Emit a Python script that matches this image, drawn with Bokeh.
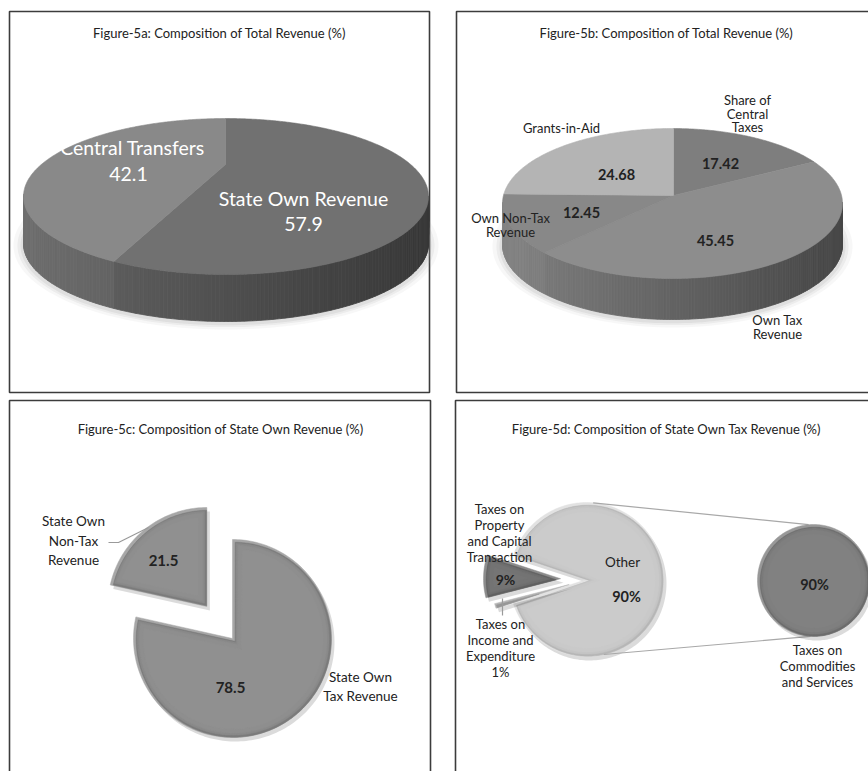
import numpy as np
from bokeh.plotting import figure
from bokeh.models import Range1d
from bokeh.core.properties import value
from bokeh.embed import file_html
from bokeh.resources import INLINE

# ---------------- data ----------------
titles = ["Figure-5a: Composition of Total Revenue (%)",
          "Figure-5b: Composition of Total Revenue (%)",
          "Figure-5c: Composition of State Own Revenue (%)",
          "Figure-5d: Composition of State Own Tax Revenue (%)"]

a_categories = ["State Own Revenue", "Central Transfers"]
a_values = [57.9, 42.1]

b_categories = ["Share of Central Taxes", "Own Tax Revenue", "Own Non-Tax Revenue", "Grants-in-Aid"]
b_values = [17.42, 45.45, 12.45, 24.68]

c_categories = ["State Own Tax Revenue", "State Own Non-Tax Revenue"]
c_values = [78.5, 21.5]

d_categories = ["Other", "Taxes on Income and Expenditure", "Taxes on Property and Capital Transaction"]
d_values = [90, 1, 9]
d_sub_categories = ["Taxes on Commodities and Services"]
d_sub_values = [90]

# ---------------- canvas ----------------
W, H = 868, 771
FONT = "Lato"
p = figure(width=W, height=H, x_range=Range1d(0, W), y_range=Range1d(H, 0),
           x_axis_location=None, y_axis_location=None, toolbar_location=None,
           output_backend="svg", min_border=0, outline_line_color=None,
           background_fill_color="white", border_fill_color="white")
p.xgrid.visible = False
p.ygrid.visible = False


def gray(g):
    g = int(max(0, min(255, round(g))))
    return "#%02x%02x%02x" % (g, g, g)


def txt(x, y, lines, size, color="#222222", bold=False, spacing=None):
    if isinstance(lines, str):
        lines = [lines]
    spacing = spacing or size * 1.2
    n = len(lines)
    ys = [y + (i - (n - 1) / 2) * spacing for i in range(n)]
    p.text(x=[x] * n, y=ys, text=lines, text_font=value(FONT),
           text_font_size=f"{size}px", text_color=color, text_align="center",
           text_baseline="middle", text_font_style="bold" if bold else "normal")


def bounds_of(values, start):
    fr = np.cumsum([0] + list(values)) / float(sum(values))
    return start + fr * 360.0


# ---------------- 3D pie (tilted ellipse with raised apex) ----------------
def rim(theta, P):
    """Rim point of the top face for slice angle theta (deg, clockwise from 12)."""
    th = np.radians(np.asarray(theta, dtype=float))
    dx, dy = np.sin(th), -np.cos(th) * P["lam"]
    ox, oy = P["vx"] - P["cx"], P["vy"] - P["ce"]
    rx, ry = P["rx"], P["ry"]
    A = (dx / rx) ** 2 + (dy / ry) ** 2
    B = 2 * (ox * dx / rx ** 2 + oy * dy / ry ** 2)
    C = (ox / rx) ** 2 + (oy / ry) ** 2 - 1
    t = (-B + np.sqrt(B * B - 4 * A * C)) / (2 * A)
    return P["vx"] + t * dx, P["vy"] + t * dy


def pie3d(values, start, P, top_cols, side_grays):
    b = bounds_of(values, start)
    # soft shadow underneath
    ts = np.radians(np.linspace(0, 360, 181))
    for grow, alpha in [(10, 0.08), (6, 0.12), (3, 0.16)]:
        sx = P["cx"] + (P["rx"] + grow) * np.sin(ts)
        sy = P["ce"] + P["T"] + 2 - (P["ry"] + grow * 0.6) * np.cos(ts)
        p.patch(list(sx), list(sy), fill_color="#9a9a9a", fill_alpha=alpha, line_color=None)
    xs, ys, cols = [], [], []
    for i in range(len(values)):
        n = max(2, int((b[i + 1] - b[i]) / 1.0))
        ts = np.linspace(b[i], b[i + 1], n + 1)
        rxp, ryp = rim(ts, P)
        for j in range(n):
            if ryp[j] < P["ce"] - 0.5 and ryp[j + 1] < P["ce"] - 0.5:
                continue
            xs.append([rxp[j], rxp[j + 1], rxp[j + 1], rxp[j]])
            ys.append([ryp[j], ryp[j + 1], ryp[j + 1] + P["T"], ryp[j] + P["T"]])
            sinpsi = (0.5 * (rxp[j] + rxp[j + 1]) - P["cx"]) / P["rx"]
            f = 0.55 + 0.45 * (0.5 - 0.5 * sinpsi)
            cols.append(gray(side_grays[i] * f))
    p.patches(xs, ys, fill_color=cols, line_color=cols, line_width=0.8)
    # top face
    for i in range(len(values)):
        ts = np.linspace(b[i], b[i + 1], max(8, int((b[i + 1] - b[i]) / 0.7)))
        px, py = rim(ts, P)
        p.patch([P["vx"]] + list(px), [P["vy"]] + list(py),
                fill_color=top_cols[i], line_color=top_cols[i], line_width=0.6)


# ---------------- 2D bevelled wedges ----------------
def inset_wedge(vx, vy, r, t0, t1, inset):
    full = abs(t1 - t0) >= 359.9
    rr = r - inset
    if full:
        ts = np.linspace(t0, t1, 240)
        return list(vx + rr * np.sin(np.radians(ts))), list(vy - rr * np.cos(np.radians(ts)))
    half = np.radians((t1 - t0) / 2.0)
    mid = np.radians((t0 + t1) / 2.0)
    if inset:
        sh = abs(np.sin(half))
        dv = inset / sh if half < np.pi / 2 else inset / max(sh, 0.7)
        dt = np.degrees(np.arcsin(min(0.9, inset / max(1.0, rr))))
    else:
        dv, dt = 0.0, 0.0
    nvx, nvy = vx + dv * np.sin(mid), vy - dv * np.cos(mid)
    ts = np.linspace(t0 + dt, t1 - dt, max(10, int(abs(t1 - t0) / 1.5)))
    xs = [nvx] + list(vx + rr * np.sin(np.radians(ts)))
    ys = [nvy] + list(vy - rr * np.cos(np.radians(ts)))
    return xs, ys


def bevel_wedge(vx, vy, r, t0, t1, base, small=False):
    sx, sy = inset_wedge(vx + 3, vy + 4, r, t0, t1, 0)
    p.patch(sx, sy, fill_color="black", fill_alpha=0.14, line_color=None)
    if small:
        layers = [(0, 0, 0, base + 30), (1, 0.6, 0.6, base)]
    else:
        layers = [(0, 0, 0, base + 26),
                  (1.5, 1.2, 1.2, base - 18),
                  (3.0, 0.6, 0.6, base - 4),
                  (5.0, 0.6, 0.6, base + 1),
                  (9.0, 0.6, 0.6, base + 3)]
    for inset, ox, oy, g in layers:
        xs, ys = inset_wedge(vx + ox, vy + oy, r, t0, t1, inset)
        p.patch(xs, ys, fill_color=gray(g), line_color=gray(g), line_width=0.5)


# ---------------- panel frames ----------------
frames = [(9, 429, 11, 392), (456, 875, 11, 392), (9, 430, 400, 780), (455, 875, 400, 780)]
for l, r, t, bt in frames:
    p.quad(left=[l], right=[r], top=[t], bottom=[bt], fill_color=None,
           line_color="#3c3c3c", line_width=1.6)

TS = 13
txt(219, 32, titles[0], TS)
txt(666, 32, titles[1], TS)
txt(220, 428, titles[2], TS)
txt(666, 428, titles[3], TS)

# ---------------- Figure 5a ----------------
PA = dict(cx=225.5, ce=196, rx=202.5, ry=78, vx=225, vy=164, lam=0.47, T=47)
pie3d(a_values, 0, PA, top_cols=["#717171", "#898989"], side_grays=[102, 110])
txt(132, 147, a_categories[1], 19.5, color="white")
txt(128, 173, f"{a_values[1]}", 19.5, color="white")
txt(303, 198, a_categories[0], 19.5, color="white")
txt(303, 223, f"{a_values[0]}", 19.5, color="white")

# ---------------- Figure 5b ----------------
PB = dict(cx=672, ce=203, rx=170, ry=75, vx=673, vy=195, lam=0.465, T=41)
pie3d(b_values, 0, PB, top_cols=["#7e7e7e", "#8d8d8d", "#888888", "#b4b4b4"],
      side_grays=[128, 128, 132, 150])
txt(747, 113, ["Share of", "Central", "Taxes"], 13, spacing=13.5)
txt(720, 163, f"{b_values[0]:.2f}", 14.5, bold=True)
txt(715, 240, f"{b_values[1]:.2f}", 14.5, bold=True)
txt(581, 212, f"{b_values[2]:.2f}", 14.5, bold=True)
txt(616, 174, f"{b_values[3]:.2f}", 14.5, bold=True)
txt(561, 127, b_categories[3], 13)
txt(510, 224, ["Own Non-Tax", "Revenue"], 13, spacing=14)
txt(777, 326, ["Own Tax", "Revenue"], 13, spacing=14)

# ---------------- Figure 5c ----------------
CX, CY, CR = 232, 638, 99
cb = bounds_of(c_values, 0)
explode_c = [0, 41]
for i in range(len(c_values)):
    mid = np.radians(0.5 * (cb[i] + cb[i + 1]))
    vx = CX + explode_c[i] * np.sin(mid)
    vy = CY - explode_c[i] * np.cos(mid)
    bevel_wedge(vx, vy, CR, cb[i], cb[i + 1], 141)
p.line([108, 118, 148], [542, 542, 527], line_color="#9a9a9a", line_width=1.2)
txt(73, 540, ["State Own", "Non-Tax", "Revenue"], 13.5, spacing=19.5)
txt(163, 560, f"{c_values[1]}", 15, bold=True)
txt(230, 687, f"{c_values[0]}", 15, bold=True)
txt(360, 686, ["State Own", "Tax Revenue"], 13.5, spacing=19)

# ---------------- Figure 5d ----------------
DX, DY, DR = 586, 579, 77
db = bounds_of(d_values, 288)
explode_d = [0, 18, 26]
d_base = [200, 150, 114]
for i in range(len(d_values)):
    mid = np.radians(0.5 * (db[i] + db[i + 1]))
    vx = DX + explode_d[i] * np.sin(mid)
    vy = DY - explode_d[i] * np.cos(mid)
    bevel_wedge(vx, vy, DR, db[i], db[i + 1], d_base[i], small=d_values[i] < 5)

SX, SY, SR = 813, 580, 56
mx1, my1 = DX + DR * np.sin(np.radians(5)), DY - DR * np.cos(np.radians(5))
mx2, my2 = DX + DR * np.sin(np.radians(167)), DY - DR * np.cos(np.radians(167))
sx1, sy1 = SX + SR * np.sin(np.radians(355)), SY - SR * np.cos(np.radians(355))
sx2, sy2 = SX + SR * np.sin(np.radians(183)), SY - SR * np.cos(np.radians(183))
p.line([mx1, sx1], [my1, sy1], line_color="#a8a8a8", line_width=1.2)
p.line([mx2, sx2], [my2, sy2], line_color="#a8a8a8", line_width=1.2)
sub_b = bounds_of(d_sub_values, 0)
bevel_wedge(SX, SY, SR, sub_b[0], sub_b[1], 126)

p.line([502, 502], [598, 615], line_color="#9a9a9a", line_width=1.2)
txt(499, 532, ["Taxes on", "Property", "and Capital", "Transaction"], 13, spacing=16)
txt(505, 579, f"{d_values[2]}%", 14, bold=True)
txt(622, 561, d_categories[0], 13.5)
txt(626, 596, f"{d_values[0]}%", 14.5, bold=True)
txt(814, 584, f"{d_sub_values[0]}%", 14.5, bold=True)
txt(500, 647, ["Taxes on", "Income and", "Expenditure", f"{d_values[1]}%"], 13, spacing=16)
txt(817, 665, ["Taxes on", "Commodities", "and Services"], 13, spacing=16)

open("out.html", "w").write(file_html(p, INLINE))
